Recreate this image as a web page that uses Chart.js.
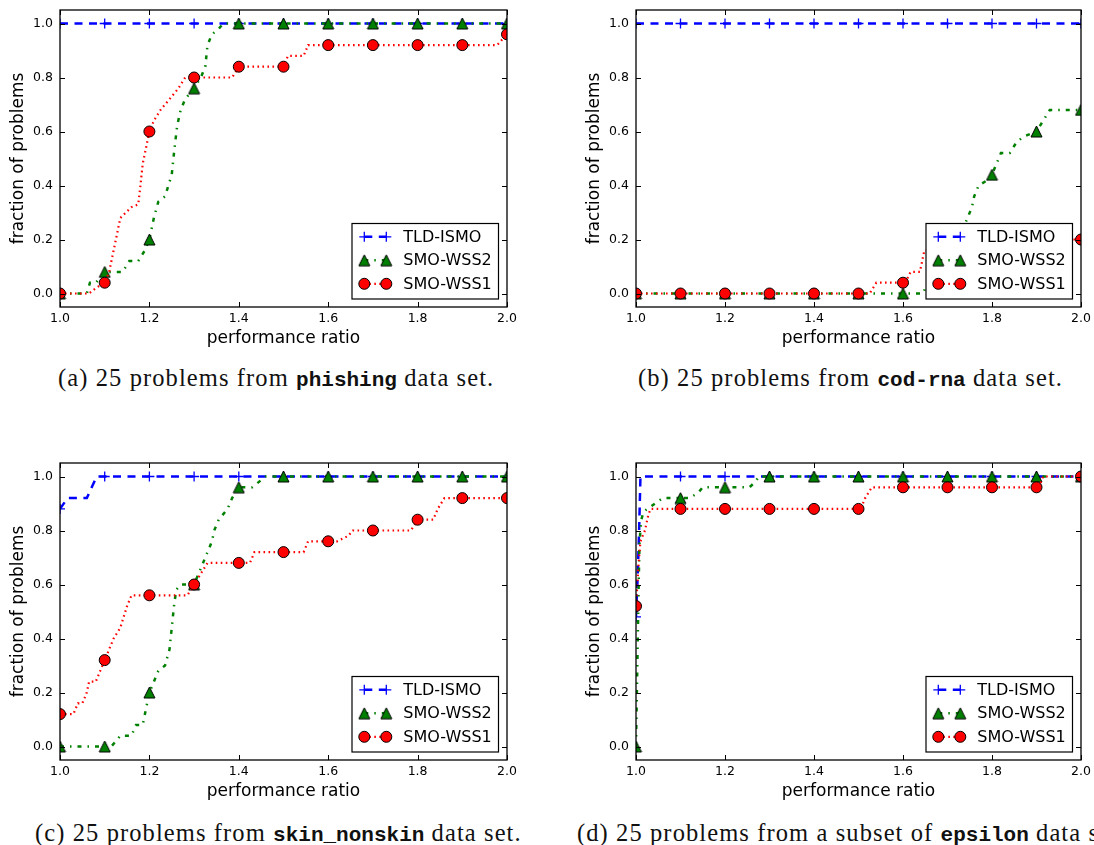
<!DOCTYPE html>
<html>
<head>
<meta charset="utf-8">
<script src="https://cdn.jsdelivr.net/npm/chart.js@4.4.1/dist/chart.umd.min.js"></script>
<style>
  html, body { margin: 0; padding: 0; background: #fff; }
  body { width: 1094px; height: 845px; position: relative; overflow: hidden; }
  canvas { position: absolute; }
  .cap { position: absolute; white-space: nowrap; font-family: 'Liberation Serif', serif; font-size: 24.5px; letter-spacing: 1.1px; color: #111; line-height: 1; }
  .cap b { font-family: 'Liberation Mono', monospace; font-size: 21px; font-weight: bold; letter-spacing: 0; }
</style>
</head>
<body>
<canvas id="chartA" width="540" height="350" style="left:0px;top:0px"></canvas>
<canvas id="chartB" width="518" height="350" style="left:576px;top:0px"></canvas>
<canvas id="chartC" width="540" height="350" style="left:0px;top:453px"></canvas>
<canvas id="chartD" width="518" height="350" style="left:576px;top:453px"></canvas>

<div class="cap" style="left:58px;top:366px">(a) 25 problems from <b>phishing</b> data set.</div>
<div class="cap" style="left:638px;top:366px">(b) 25 problems from <b>cod-rna</b> data set.</div>
<div class="cap" style="left:35px;top:821px">(c) 25 problems from <b>skin_nonskin</b> data set.</div>
<div class="cap" style="left:577px;top:821px">(d) 25 problems from a subset of <b>epsilon</b> data set.</div>

<script>
// marker positions (performance ratio) and legend names
var markX = [1.0, 1.1, 1.2, 1.3, 1.4, 1.5, 1.6, 1.7, 1.8, 1.9, 2.0];
var seriesNames = ['TLD-ISMO', 'SMO-WSS2', 'SMO-WSS1'];

// (a) phishing
var phishTLD = [[1.0, 1.0], [2.0, 1.0]];
var phishTLDMarks = [1, 1, 1, 1, 1, 1, 1, 1, 1, 1, 1];
var phishWSS2 = [[1.0, 0], [1.06, 0], [1.067, 0.04], [1.08, 0.04], [1.1, 0.08], [1.14, 0.08], [1.155, 0.12],
  [1.175, 0.12], [1.19, 0.16], [1.2, 0.2], [1.21, 0.28], [1.22, 0.34], [1.235, 0.36], [1.25, 0.44],
  [1.255, 0.52], [1.262, 0.62], [1.27, 0.68], [1.28, 0.72], [1.3, 0.76], [1.315, 0.8], [1.325, 0.84],
  [1.33, 0.92], [1.34, 0.96], [1.355, 0.98], [1.365, 1.0], [2.0, 1.0]];
var phishWSS2Marks = [0, 0.08, 0.2, 0.76, 1, 1, 1, 1, 1, 1, 1];
var phishWSS1 = [[1.0, 0], [1.065, 0], [1.08, 0.02], [1.1, 0.04], [1.11, 0.08], [1.12, 0.16], [1.13, 0.24],
  [1.135, 0.28], [1.16, 0.32], [1.175, 0.33], [1.18, 0.4], [1.185, 0.48], [1.195, 0.56], [1.2, 0.6],
  [1.21, 0.64], [1.225, 0.68], [1.245, 0.72], [1.265, 0.76], [1.28, 0.8], [1.385, 0.8], [1.4, 0.84],
  [1.5, 0.84], [1.51, 0.88], [1.545, 0.88], [1.555, 0.92], [1.978, 0.92], [2.0, 0.96]];
var phishWSS1Marks = [0, 0.04, 0.6, 0.8, 0.84, 0.84, 0.92, 0.92, 0.92, 0.92, 0.96];

// (b) cod-rna
var codTLD = [[1.0, 1.0], [2.0, 1.0]];
var codTLDMarks = [1, 1, 1, 1, 1, 1, 1, 1, 1, 1, 1];
var codWSS2 = [[1.0, 0], [1.645, 0], [1.655, 0.04], [1.68, 0.04], [1.69, 0.08], [1.71, 0.12], [1.72, 0.16],
  [1.735, 0.24], [1.745, 0.28], [1.755, 0.32], [1.76, 0.36], [1.77, 0.4], [1.79, 0.42], [1.8, 0.44],
  [1.81, 0.48], [1.82, 0.52], [1.84, 0.52], [1.855, 0.56], [1.87, 0.58], [1.9, 0.6], [1.915, 0.64],
  [1.93, 0.68], [2.0, 0.68]];
var codWSS2Marks = [0, 0, 0, 0, 0, 0, 0, 0.12, 0.44, 0.6, 0.68];
var codWSS1 = [[1.0, 0], [1.525, 0], [1.54, 0.04], [1.605, 0.04], [1.617, 0.08], [1.638, 0.08], [1.648, 0.16],
  [1.75, 0.16], [1.76, 0.2], [2.0, 0.2]];
var codWSS1Marks = [0, 0, 0, 0, 0, 0, 0.04, 0.16, 0.2, 0.2, 0.2];

// (c) skin_nonskin
var skinTLD = [[1.0, 0.88], [1.017, 0.92], [1.06, 0.92], [1.082, 1.0], [2.0, 1.0]];
var skinTLDMarks = [0.88, 1, 1, 1, 1, 1, 1, 1, 1, 1, 1];
var skinWSS2 = [[1.0, 0], [1.115, 0], [1.125, 0.02], [1.135, 0.04], [1.16, 0.04], [1.17, 0.08], [1.185, 0.08],
  [1.19, 0.12], [1.2, 0.2], [1.21, 0.24], [1.22, 0.28], [1.235, 0.3], [1.245, 0.36], [1.25, 0.44],
  [1.255, 0.52], [1.26, 0.58], [1.27, 0.6], [1.3, 0.6], [1.31, 0.64], [1.32, 0.68], [1.33, 0.72],
  [1.34, 0.76], [1.345, 0.8], [1.355, 0.84], [1.375, 0.88], [1.385, 0.92], [1.4, 0.96], [1.43, 0.96],
  [1.445, 0.98], [1.46, 1.0], [2.0, 1.0]];
var skinWSS2Marks = [0, 0, 0.2, 0.6, 0.96, 1, 1, 1, 1, 1, 1];
var skinWSS1 = [[1.0, 0.12], [1.03, 0.12], [1.04, 0.16], [1.05, 0.16], [1.06, 0.2], [1.065, 0.24], [1.08, 0.24],
  [1.09, 0.28], [1.1, 0.32], [1.11, 0.36], [1.12, 0.4], [1.135, 0.44], [1.15, 0.52], [1.16, 0.56],
  [1.285, 0.56], [1.3, 0.6], [1.315, 0.64], [1.33, 0.68], [1.425, 0.68], [1.435, 0.72], [1.545, 0.72],
  [1.555, 0.76], [1.62, 0.76], [1.645, 0.78], [1.655, 0.8], [1.785, 0.8], [1.8, 0.84], [1.835, 0.84],
  [1.845, 0.88], [1.86, 0.92], [2.0, 0.92]];
var skinWSS1Marks = [0.12, 0.32, 0.56, 0.6, 0.68, 0.72, 0.76, 0.8, 0.84, 0.92, 0.92];

// (d) epsilon subset
var epsTLD = [[1.0, 0.48], [1.004, 0.64], [1.007, 0.8], [1.01, 1.0], [2.0, 1.0]];
var epsTLDMarks = [0.48, 1, 1, 1, 1, 1, 1, 1, 1, 1, 1];
var epsWSS2 = [[1.0, 0], [1.002, 0.2], [1.004, 0.4], [1.006, 0.6], [1.008, 0.76], [1.012, 0.84], [1.017, 0.87],
  [1.043, 0.9], [1.06, 0.92], [1.12, 0.92], [1.14, 0.94], [1.15, 0.96], [1.255, 0.96], [1.268, 0.98],
  [1.276, 1.0], [2.0, 1.0]];
var epsWSS2Marks = [0, 0.92, 0.96, 1, 1, 1, 1, 1, 1, 1, 1];
var epsWSS1 = [[1.0, 0.52], [1.003, 0.6], [1.006, 0.68], [1.01, 0.76], [1.02, 0.8], [1.028, 0.86], [1.033, 0.88],
  [1.505, 0.88], [1.515, 0.92], [1.53, 0.96], [1.905, 0.96], [1.915, 1.0], [2.0, 1.0]];
var epsWSS1Marks = [0.52, 0.88, 0.88, 0.88, 0.88, 0.88, 0.96, 0.96, 0.96, 0.96, 1.0];

Chart.defaults.font.family = "'DejaVu Sans', sans-serif";
Chart.defaults.color = '#000';

// green triangle marker (matplotlib '^' is centred on its bounding box)
function triangleImage() {
  var c = document.createElement('canvas');
  c.width = 13; c.height = 13;
  var g = c.getContext('2d');
  g.beginPath();
  g.moveTo(6.5, 1); g.lineTo(12, 12); g.lineTo(1, 12); g.closePath();
  g.fillStyle = '#008000'; g.fill();
  g.strokeStyle = '#000'; g.lineWidth = 1; g.stroke();
  return c;
}
var tri = triangleImage();

var lineStyles = [
  { color: '#0000ff', width: 2.5, dash: [8, 6.5], marker: 'cross', radius: 5, fill: '#0000ff', edge: '#0000ff', edgeWidth: 1.3 },
  { color: '#008000', width: 2.5, dash: [4, 6, 1.5, 6], marker: tri, radius: 6, fill: '#008000', edge: '#000', edgeWidth: 1 },
  { color: '#ff0000', width: 2.2, dash: [1.6, 3.4], marker: 'circle', radius: 5.5, fill: '#ff0000', edge: '#000', edgeWidth: 1 }
];

function drawMarker(ctx, st, x, y) {
  ctx.save();
  if (st.marker === 'circle') {
    ctx.beginPath(); ctx.arc(x, y, st.radius, 0, Math.PI * 2);
    ctx.fillStyle = st.fill; ctx.fill();
    ctx.strokeStyle = st.edge; ctx.lineWidth = st.edgeWidth; ctx.stroke();
  } else if (st.marker === 'cross') {
    ctx.beginPath();
    ctx.moveTo(x - st.radius, y); ctx.lineTo(x + st.radius, y);
    ctx.moveTo(x, y - st.radius); ctx.lineTo(x, y + st.radius);
    ctx.strokeStyle = st.edge; ctx.lineWidth = st.edgeWidth; ctx.stroke();
  } else {
    ctx.drawImage(st.marker, x - st.marker.width / 2, y - st.marker.height / 2);
  }
  ctx.restore();
}

function drawLegend(chart) {
  var ctx = chart.ctx, a = chart.chartArea;
  var w = 146.5, h = 75.5;
  var bx = a.right - 8.5 - w, by = a.bottom - 8 - h;
  ctx.save();
  ctx.fillStyle = '#fff';
  ctx.fillRect(bx, by, w, h);
  ctx.strokeStyle = '#000'; ctx.lineWidth = 1.2;
  ctx.strokeRect(bx, by, w, h);
  seriesNames.forEach(function(name, i) {
    var st = lineStyles[i];
    var cy = by + 13.3 + 23.5 * i;
    var x1 = bx + 12.3, x2 = bx + 34.3;
    ctx.save();
    ctx.strokeStyle = st.color; ctx.lineWidth = st.width; ctx.setLineDash(st.dash);
    ctx.beginPath(); ctx.moveTo(x1, cy); ctx.lineTo(x2, cy); ctx.stroke();
    ctx.restore();
    drawMarker(ctx, st, x1, cy);
    drawMarker(ctx, st, x2, cy);
    ctx.fillStyle = '#000';
    ctx.font = "16px 'DejaVu Sans'";
    ctx.textBaseline = 'middle';
    ctx.fillText(name, bx + 51.3, cy + 1);
  });
  ctx.restore();
}

// frame with inward ticks on all sides, then the legend box
var axesFrame = {
  id: 'axesFrame',
  afterDatasetsDraw: function(chart) {
    var ctx = chart.ctx, a = chart.chartArea, xs = chart.scales.x, ys = chart.scales.y;
    ctx.save();
    ctx.strokeStyle = '#000';
    ctx.lineWidth = 1;
    ctx.beginPath();
    xs.ticks.forEach(function(t) {
      var px = Math.round(xs.getPixelForValue(t.value)) + 0.5;
      ctx.moveTo(px, a.bottom); ctx.lineTo(px, a.bottom - 5);
      ctx.moveTo(px, a.top); ctx.lineTo(px, a.top + 5);
    });
    ys.ticks.forEach(function(t) {
      var py = Math.round(ys.getPixelForValue(t.value)) + 0.5;
      ctx.moveTo(a.left, py); ctx.lineTo(a.left + 5, py);
      ctx.moveTo(a.right, py); ctx.lineTo(a.right - 5, py);
    });
    ctx.stroke();
    ctx.lineWidth = 1.3;
    ctx.strokeRect(a.left, a.top, a.right - a.left, a.bottom - a.top);
    ctx.restore();
    drawLegend(chart);
  }
};

function makePanel(id, curves, marks, padRight) {
  var datasets = [];
  curves.forEach(function(curve, i) {
    var st = lineStyles[i];
    datasets.push({
      label: seriesNames[i],
      data: curve.map(function(p) { return { x: p[0], y: p[1] }; }),
      showLine: true,
      borderColor: st.color,
      borderWidth: st.width,
      borderDash: st.dash,
      pointRadius: 0,
      clip: 0,
      order: 6 - 2 * i
    });
    datasets.push({
      label: seriesNames[i],
      data: markX.map(function(x, k) { return { x: x, y: marks[i][k] }; }),
      showLine: false,
      pointStyle: st.marker,
      pointRadius: st.radius,
      pointBackgroundColor: st.fill,
      pointBorderColor: st.edge,
      pointBorderWidth: st.edgeWidth,
      clip: 0,
      order: 5 - 2 * i
    });
  });

  return new Chart(document.getElementById(id), {
    type: 'scatter',
    data: { datasets: datasets },
    plugins: [axesFrame],
    options: {
      responsive: false,
      animation: false,
      events: [],
      layout: { padding: { left: 0, top: 10, right: padRight, bottom: 0 } },
      plugins: { legend: { display: false }, tooltip: { enabled: false } },
      scales: {
        x: {
          type: 'linear', min: 1, max: 2,
          grid: { display: false, drawTicks: false },
          border: { display: false },
          ticks: { stepSize: 0.2, autoSkip: false, maxRotation: 0, padding: 4,
            font: { size: 12.5 }, callback: function(v) { return v.toFixed(1); } },
          title: { display: true, text: 'performance ratio', font: { size: 17 }, padding: { top: 0, bottom: 1 } },
          afterFit: function(s) { s.height = 43; s.paddingLeft = 0; s.paddingRight = 0; }
        },
        y: {
          type: 'linear', min: -0.05, max: 1.05,
          grid: { display: false, drawTicks: false },
          border: { display: false },
          ticks: { stepSize: 0.2, includeBounds: false, autoSkip: false, padding: 7,
            font: { size: 12.5 }, callback: function(v) { return v.toFixed(1); } },
          title: { display: true, text: 'fraction of problems', font: { size: 17 }, padding: { top: 8, bottom: 0 } },
          afterFit: function(s) { s.width = 60; s.paddingTop = 0; s.paddingBottom = 0; }
        }
      }
    }
  });
}

makePanel('chartA', [phishTLD, phishWSS2, phishWSS1], [phishTLDMarks, phishWSS2Marks, phishWSS1Marks], 33);
makePanel('chartB', [codTLD, codWSS2, codWSS1], [codTLDMarks, codWSS2Marks, codWSS1Marks], 13);
makePanel('chartC', [skinTLD, skinWSS2, skinWSS1], [skinTLDMarks, skinWSS2Marks, skinWSS1Marks], 33);
makePanel('chartD', [epsTLD, epsWSS2, epsWSS1], [epsTLDMarks, epsWSS2Marks, epsWSS1Marks], 13);
</script>
</body>
</html>
